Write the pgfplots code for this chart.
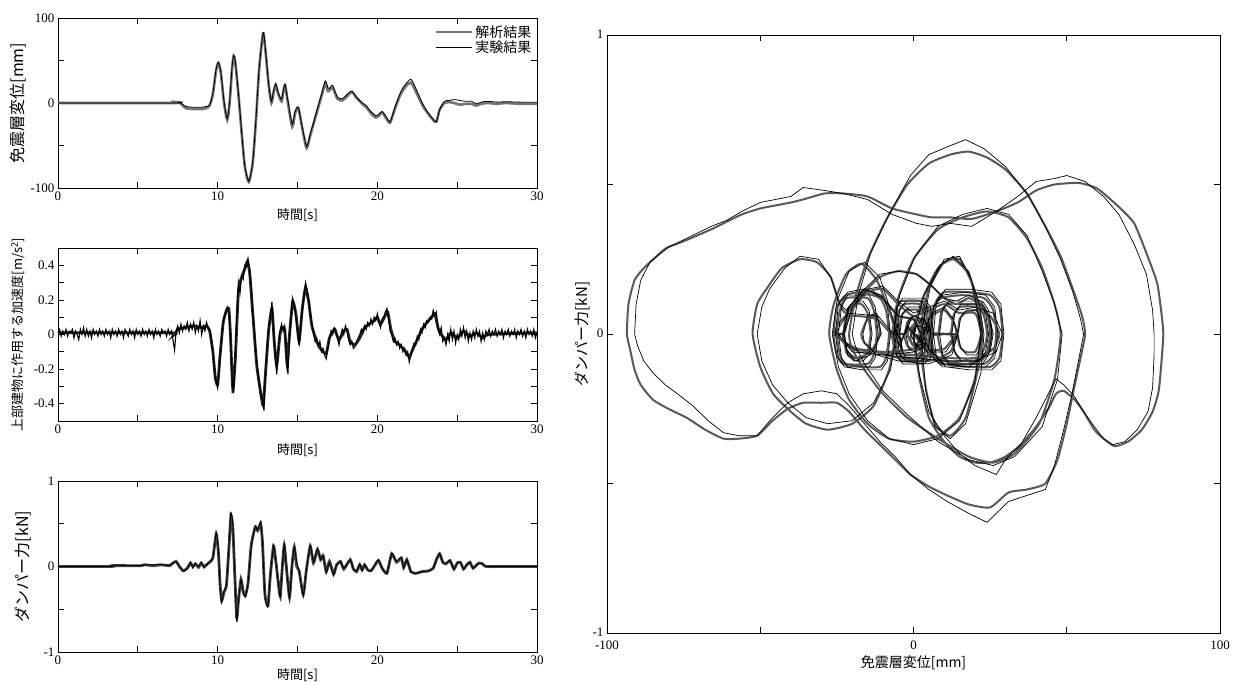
\documentclass[border=0pt]{standalone}
\usepackage{pgfplots}
\pgfplotsset{compat=1.18}
\usepackage{pgfplotstable}
\usepackage{fontspec}
\setmainfont{Liberation Serif}
\newfontfamily\jp{Noto Sans CJK JP}

\pgfplotstableread{
t a e
0 0 0
7.3 0 0
7.5 1 1
7.7 -1 0
8.0 -6 -4
8.5 -7 -5
9.0 -7 -5
9.3 -6 -4
9.5 -3 -2
9.7 10 12
9.9 38 40
10.05 47 48
10.2 35 37
10.4 0 2
10.6 -20 -18
10.75 0 3
10.9 40 42
11.0 55 56
11.1 48 50
11.3 10 12
11.5 -35 -33
11.7 -75 -73
11.95 -93 -92
12.2 -70 -68
12.4 -20 -18
12.6 40 42
12.85 82 83
13.0 60 62
13.2 20 22
13.37 0 2
13.5 12 15
13.64 21 23
13.8 10 12
14.0 2 4
14.1 12 14
14.22 21 22
14.4 0 3
14.67 -28 -25
14.85 -12 -10
15.05 -6 -5
15.3 -30 -28
15.57 -53 -51
15.8 -38 -36
16.0 -25 -23
16.3 -5 -3
16.5 8 10
16.74 23 26
16.9 14 18
17.0 15 17
17.2 18 21
17.5 5 7
17.8 3 5
18.1 8 10
18.4 13 14
18.7 6 7
19.0 0 1
19.3 -5 -3
19.6 -12 -10
19.9 -17 -15
20.1 -15 -13
20.3 -11 -10
20.55 -18 -16
20.8 -23 -22
21.1 -7 -5
21.4 8 10
21.6 15 18
21.9 22 25
22.1 24 28
22.3 18 22
22.6 6 9
22.9 -5 -3
23.2 -13 -12
23.5 -20 -19
23.7 -22 -22
23.9 -8 -8
24.2 0 2
24.5 1 3
24.8 0 4
25.2 -2 3
25.5 -1 2
25.9 -1 2
26.2 -3 -1
26.5 -1 1
26.9 0 2
27.5 -1 1
28 0 1.5
29 -1 1
30 -1 1
}\dispdata

\pgfplotstableread{
t v
0 0.01
7 0.01
7.3 0.0
7.5 0.03
8 0.04
8.5 0.05
9 0.04
9.3 0.05
9.5 0.02
9.7 -0.1
9.85 -0.25
10.0 -0.29
10.15 -0.12
10.35 0.07
10.55 0.14
10.7 0.15
10.8 0.0
10.95 -0.32
11.1 -0.15
11.3 0.25
11.5 0.33
11.7 0.38
11.85 0.42
12.0 0.36
12.2 0.12
12.45 -0.18
12.7 -0.34
12.85 -0.41
13.0 -0.22
13.2 0.03
13.4 0.15
13.55 -0.05
13.7 -0.18
13.9 0.0
14.05 0.04
14.2 0.03
14.35 -0.17
14.5 0.0
14.7 0.19
14.9 0.12
15.1 -0.04
15.3 0.15
15.5 0.27
15.7 0.19
15.9 0.05
16.2 -0.04
16.5 -0.09
16.8 -0.11
17.0 -0.02
17.3 0.03
17.6 -0.03
17.9 0.02
18.1 0.03
18.3 -0.04
18.6 -0.06
18.9 -0.02
19.2 0.04
19.5 0.06
19.8 0.08
20.0 0.1
20.2 0.06
20.5 0.11
20.65 0.13
20.85 0.03
21.1 -0.04
21.4 -0.06
21.7 -0.09
22.0 -0.13
22.2 -0.09
22.5 -0.03
22.8 0.03
23.1 0.07
23.4 0.1
23.6 0.12
23.8 0.04
24.0 0.0
24.3 -0.03
24.6 0.01
25 -0.02
25.4 0.02
25.8 -0.01
26.2 0.01
26.6 -0.02
27 0.0
30 0.01
}\accA

\pgfplotstableread{
t v
0.0 0.01
0.1 0.03
0.2 -0.01
0.3 0.02
0.4 0.0
0.5 0.03
0.6 -0.01
0.7 0.02
0.8 0.01
0.9 0.03
1.0 -0.02
1.1 0.02
1.2 0.0
1.3 -0.03
1.4 0.03
1.5 0.0
1.6 0.04
1.7 -0.01
1.8 0.03
1.9 -0.01
2.0 0.02
2.1 -0.02
2.2 0.03
2.3 0.0
2.4 0.02
2.5 -0.01
2.6 0.03
2.7 0.0
2.8 0.02
2.9 -0.01
3.0 0.03
3.1 0.0
3.2 0.02
3.3 -0.02
3.4 0.03
3.5 0.0
3.6 0.02
3.7 -0.01
3.8 0.03
3.9 0.0
4.0 0.02
4.1 -0.02
4.2 0.03
4.3 0.01
4.4 -0.01
4.5 0.03
4.6 0.0
4.7 0.02
4.8 -0.02
4.9 0.03
5.0 0.0
5.1 0.02
5.2 -0.01
5.3 0.03
5.4 0.0
5.5 0.02
5.6 -0.01
5.7 0.03
5.8 0.0
5.9 0.02
6.0 -0.02
6.1 0.03
6.2 0.0
6.3 0.02
6.4 -0.01
6.5 0.03
6.6 0.01
6.7 0.02
6.8 -0.01
6.9 0.03
7.0 0.0
7.1 0.02
7.2 -0.03
7.3 -0.09
7.4 0.02
7.5 0.05
7.6 0.01
7.7 0.06
7.8 0.02
7.9 0.05
8.0 0.03
8.1 0.07
8.2 0.02
8.3 0.06
8.4 0.03
8.5 0.07
8.6 0.01
8.7 0.05
8.8 0.02
8.9 0.08
9.0 0.0
9.1 0.05
9.2 0.02
9.3 0.07
9.4 0.04
9.5 0.03
9.6 -0.04
9.7 -0.1
9.8 -0.2
9.9 -0.27
10.0 -0.31
10.1 -0.2
10.2 -0.08
10.3 0.04
10.4 0.1
10.5 0.12
10.6 0.16
10.7 0.14
10.8 -0.02
10.9 -0.25
11.0 -0.34
11.1 -0.12
11.2 0.12
11.3 0.3
11.4 0.24
11.5 0.34
11.6 0.32
11.7 0.4
11.8 0.39
11.9 0.44
12.0 0.38
12.1 0.28
12.2 0.12
12.3 0.02
12.4 -0.12
12.5 -0.2
12.6 -0.28
12.7 -0.36
12.8 -0.37
12.9 -0.44
13.0 -0.2
13.1 -0.06
13.2 0.05
13.3 0.1
13.4 0.19
13.5 0.02
13.6 -0.12
13.7 -0.23
13.8 -0.08
13.9 0.02
14.0 0.06
14.1 0.02
14.2 0.05
14.3 -0.1
14.4 -0.23
14.5 -0.02
14.6 0.12
14.7 0.21
14.8 0.17
14.9 0.1
15.0 0.03
15.1 -0.06
15.2 0.05
15.3 0.14
15.4 0.22
15.5 0.3
15.6 0.26
15.7 0.2
15.8 0.12
15.9 0.06
16.0 0.01
16.1 -0.04
16.2 -0.02
16.3 -0.07
16.4 -0.04
16.5 -0.1
16.6 -0.08
16.7 -0.12
16.8 -0.14
16.9 -0.08
17.0 -0.03
17.1 0.02
17.2 0.0
17.3 0.04
17.4 0.03
17.5 -0.02
17.6 -0.06
17.7 -0.01
17.8 0.03
17.9 0.0
18.0 0.05
18.1 0.02
18.2 -0.03
18.3 -0.06
18.4 -0.04
18.5 -0.08
18.6 -0.07
18.7 -0.04
18.8 -0.02
18.9 0.0
19.0 0.03
19.1 0.01
19.2 0.05
19.3 0.03
19.4 0.07
19.5 0.05
19.6 0.09
19.7 0.06
19.8 0.1
19.9 0.08
20.0 0.12
20.1 0.07
20.2 0.04
20.3 0.09
20.4 0.1
20.5 0.13
20.6 0.15
20.7 0.1
20.8 0.02
20.9 0.0
21.0 -0.04
21.1 -0.02
21.2 -0.06
21.3 -0.04
21.4 -0.08
21.5 -0.06
21.6 -0.1
21.7 -0.08
21.8 -0.12
21.9 -0.1
22.0 -0.16
22.1 -0.12
22.2 -0.08
22.3 -0.05
22.4 -0.06
22.5 -0.01
22.6 -0.03
22.7 0.03
22.8 0.01
22.9 0.06
23.0 0.04
23.1 0.08
23.2 0.07
23.3 0.1
23.4 0.09
23.5 0.14
23.6 0.11
23.7 0.13
23.8 0.03
23.9 0.0
24.0 0.04
24.1 -0.04
24.2 -0.02
24.3 -0.06
24.4 0.0
24.5 -0.04
24.6 0.03
24.7 -0.03
24.8 0.02
24.9 -0.05
25.0 0.0
25.1 -0.03
25.2 0.03
25.3 -0.01
25.4 0.04
25.5 -0.02
25.6 0.02
25.7 -0.04
25.8 0.01
25.9 -0.03
26.0 0.02
26.1 -0.02
26.2 0.03
26.3 -0.01
26.4 0.02
26.5 -0.04
26.6 0.01
26.7 -0.03
26.8 0.02
26.9 0.0
27.0 0.03
27.1 -0.01
27.2 0.02
27.3 0.0
27.4 0.03
27.5 -0.01
27.6 0.02
27.7 0.0
27.8 0.03
27.9 -0.02
28.0 0.02
28.1 0.0
28.2 0.03
28.3 -0.01
28.4 0.02
28.5 0.0
28.6 0.03
28.7 -0.02
28.8 0.02
28.9 0.0
29.0 0.03
29.1 -0.01
29.2 0.02
29.3 -0.02
29.4 0.03
29.5 0.0
29.6 0.02
29.7 -0.01
29.8 0.03
29.9 -0.02
30.0 0.01
}\accE

\pgfplotstableread{
t a e
0 0 0
3.3 0 0
3.4 0.01 0.015
5.2 0.01 0.01
5.4 0.02 0.02
6.0 0.01 0.02
6.4 0.02 0.02
7.0 0.01 0.02
7.2 0.04 0.05
7.4 0.06 0.05
7.6 0.0 0.01
7.85 -0.05 -0.06
8.1 -0.02 -0.02
8.3 0.04 0.05
8.45 0.0 -0.02
8.6 0.03 0.04
8.8 -0.01 0.0
8.97 0.04 0.05
9.15 0.0 -0.02
9.3 0.02 0.02
9.5 0.05 0.06
9.7 0.1 0.1
9.91 0.38 0.4
10.05 0.15 0.2
10.15 -0.2 -0.25
10.25 -0.4 -0.42
10.4 -0.3 -0.28
10.55 -0.22 -0.2
10.7 0.2 0.22
10.83 0.6 0.63
10.95 0.45 0.5
11.05 0.0 0.05
11.19 -0.6 -0.64
11.3 -0.4 -0.42
11.46 -0.15 -0.15
11.6 -0.3 -0.3
11.73 -0.34 -0.36
11.9 -0.2 -0.2
12.1 0.25 0.22
12.35 0.46 0.48
12.5 0.42 0.42
12.69 0.5 0.53
12.8 0.3 0.3
12.95 -0.3 -0.32
13.05 -0.42 -0.44
13.16 -0.45 -0.46
13.3 -0.1 -0.1
13.5 0.24 0.25
13.65 0.05 0.05
13.8 -0.2 -0.18
13.92 -0.35 -0.36
14.05 0.0 0.0
14.17 0.25 0.26
14.3 0.0 0.0
14.5 -0.36 -0.37
14.65 0.0 0.0
14.8 0.23 0.23
14.95 0.0 0.05
15.1 -0.05 -0.05
15.36 -0.33 -0.34
15.55 -0.05 -0.05
15.8 0.24 0.25
16.0 0.04 0.05
16.25 0.2 0.21
16.45 0.08 0.08
16.6 0.13 0.12
16.8 -0.06 -0.07
17.0 0.06 0.05
17.26 -0.09 -0.1
17.45 0.02 0.02
17.7 0.06 0.05
17.9 -0.03 -0.02
18.3 0.08 0.08
18.5 -0.03 -0.03
18.7 -0.06 -0.05
18.9 0.02 0.03
19.05 -0.04 -0.05
19.2 0.02 0.02
19.4 -0.04 -0.04
19.6 -0.05 -0.06
19.8 0.0 0.01
20.07 0.07 0.08
20.3 -0.02 -0.02
20.6 -0.08 -0.08
20.9 0.15 0.15
21.2 0.05 0.06
21.5 0.1 0.11
21.65 -0.01 -0.02
21.85 0.08 0.08
22.1 -0.06 -0.06
22.4 -0.08 -0.08
22.8 -0.06 -0.06
23.2 -0.05 -0.06
23.5 -0.02 -0.02
23.7 0.08 0.08
23.9 0.15 0.15
24.1 0.05 0.05
24.3 0.03 0.04
24.55 0.07 0.07
24.8 -0.03 -0.03
25.0 0.04 0.04
25.2 0.05 0.05
25.4 -0.03 -0.03
25.6 0.02 0.02
25.8 0.05 0.05
26.0 -0.02 -0.02
26.35 0.04 0.04
26.6 0.03 0.03
26.8 0.0 0.0
28 0.0 0.0
30 0.0 0.0
}\forcedata

\pgfplotstableread{
da fa de fe
0 0 0 0
-2 0.02 -2 0.03
-4 -0.02 -4 -0.03
-6 0.01 -6 0.02
-7 0 -6 0
-4 -0.04 -4 -0.05
-6 0.03 -5 0.04
-7 0 -6.5 0
-5 0.12 -4.5 0.13
0 0.25 0.5 0.26
8 0.35 8 0.36
16 0.39 16 0.40
24 0.41 24 0.42
31 0.39 31 0.40
37 0.32 37 0.33
42 0.22 42 0.21
46 0.1 46 0.1
48 0 48.5 0
46 -0.15 47 -0.15
41 -0.3 42 -0.31
33 -0.4 33 -0.41
26 -0.43 26 -0.44
18 -0.41 18 -0.42
8 -0.35 8 -0.36
-2 -0.28 -2 -0.27
-10 -0.2 -10 -0.19
-16 -0.12 -16 -0.1
-20 -0.05 -19 -0.04
-21 0 -20 0
-19 0.12 -18 0.13
-15 0.25 -14 0.27
-9 0.38 -8 0.4
-2 0.5 -1 0.53
5 0.57 5 0.6
12 0.6 12 0.63
18 0.61 17 0.65
24 0.59 23 0.62
30 0.55 30 0.56
37 0.47 37 0.47
43 0.36 43 0.36
48 0.26 48 0.25
52 0.15 52 0.14
55 0.06 54.5 0.05
56 0 55.5 0
54.5 -0.08 54 -0.08
52 -0.2 51.5 -0.21
50 -0.3 49 -0.32
47 -0.42 46 -0.44
43 -0.5 43 -0.52
37 -0.52 37 -0.54
31 -0.53 31 -0.56
25 -0.58 24 -0.63
18 -0.57 18 -0.6
11 -0.54 11 -0.56
5 -0.51 5 -0.52
-1 -0.47 -1 -0.47
-6 -0.42 -6 -0.41
-11 -0.37 -11 -0.36
-16 -0.32 -16 -0.3
-21 -0.26 -21 -0.24
-25 -0.23 -25 -0.2
-30 -0.23 -30 -0.19
-36 -0.23 -36 -0.2
-41 -0.25 -41 -0.23
-46 -0.29 -46 -0.28
-51 -0.34 -51 -0.34
-57 -0.35 -57 -0.34
-62 -0.35 -62 -0.33
-68 -0.32 -67 -0.29
-74 -0.28 -72 -0.24
-80 -0.25 -77 -0.2
-85 -0.22 -81 -0.17
-89 -0.17 -85 -0.13
-91 -0.12 -88 -0.09
-92.5 -0.05 -90 -0.04
-93.5 0 -91 0
-93 0.1 -90.5 0.1
-91 0.18 -89 0.18
-88 0.22 -86 0.24
-81 0.285 -80 0.29
-75 0.31 -74 0.32
-66 0.35 -66 0.36
-62 0.37 -61 0.38
-56 0.4 -56 0.41
-50 0.42 -50 0.44
-45 0.43 -45 0.45
-40 0.44 -40 0.46
-36 0.45 -36 0.49
-29 0.47 -29 0.48
-23 0.47 -23 0.47
-15 0.46 -15 0.45
-7 0.42 -7 0.4
1 0.4 1 0.37
6 0.39 6 0.36
12 0.39 12 0.37
19 0.385 19 0.36
27 0.41 27 0.41
34 0.44 34 0.46
40 0.48 40 0.51
46 0.5 46 0.52
54 0.505 50 0.53
60 0.486 56 0.51
67 0.425 62 0.46
72 0.37 67 0.4
76 0.27 72 0.3
79.5 0.17 76 0.2
81 0.06 78 0.08
81.5 0 78.5 0
81 -0.08 78.5 -0.07
80 -0.19 78 -0.18
78 -0.26 76.5 -0.26
74.5 -0.32 73 -0.32
70 -0.36 69 -0.36
65.6 -0.375 65 -0.37
62 -0.35 62 -0.35
59 -0.32 59 -0.31
55.5 -0.26 55.5 -0.26
52.6 -0.22 52.6 -0.21
49 -0.19 49 -0.17
46.5 -0.2 46.5 -0.15
44 -0.25 44 -0.2
40 -0.31 40 -0.28
35 -0.37 35 -0.37
30 -0.41 30 -0.42
25 -0.43 27 -0.47
20 -0.43 20 -0.44
15 -0.41 15 -0.4
10 -0.36 10 -0.34
5 -0.28 5 -0.26
2 -0.15 2 -0.14
0 0 0 0
3 0.12 3.5 0.13
8 0.22 8.5 0.23
13 0.25 13 0.26
18 0.2 18 0.21
21 0.1 21.5 0.1
22.5 0 23 0
21 -0.12 22 -0.13
17 -0.28 17 -0.3
12 -0.34 12 -0.35
7 -0.3 7 -0.31
4 -0.18 4 -0.19
2 0 2.5 0
5 0.15 5.5 0.16
10 0.24 10 0.25
15 0.25 15 0.26
19 0.17 19 0.18
21 0.07 21 0.07
22 0 22 0
20 -0.15 20 -0.16
15 -0.28 15 -0.29
8 -0.34 8 -0.35
0 -0.36 0 -0.37
-8 -0.35 -8 -0.35
-15 -0.3 -15 -0.29
-21 -0.22 -21 -0.2
-25 -0.12 -24.5 -0.11
-27.5 0 -26.5 0
-26 0.1 -25 0.11
-22 0.2 -21 0.21
-17 0.235 -16 0.24
-12 0.18 -11 0.19
-8 0.08 -7.5 0.08
-6 0 -5.5 0
-8 -0.12 -7.5 -0.12
-13 -0.24 -13 -0.23
-20 -0.3 -20 -0.29
-28 -0.32 -28 -0.3
-35 -0.3 -35 -0.28
-40 -0.26 -41 -0.23
-45.8 -0.2 -46 -0.17
-50 -0.11 -49.5 -0.09
-52.5 0 -51 0
-51 0.1 -49.5 0.09
-48 0.15 -47 0.15
-43 0.22 -42 0.22
-37 0.25 -37 0.26
-31.5 0.24 -31 0.25
-27 0.19 -27 0.19
-24.5 0.11 -24 0.1
-22 0.07 -22 0.08
-17 0.13 -17 0.14
-11 0.19 -11 0.2
-5 0.21 -5 0.21
1 0.2 1 0.2
6 0.16 6 0.16
10 0.12 10 0.12
14 0.1 14 0.11
18 0.12 18 0.13
22 0.1 22 0.11
24.5 0.05 25 0.05
25.5 0 26 0
24 -0.06 25 -0.06
18 -0.1 18 -0.11
10 -0.09 10 -0.1
5 -0.05 5 -0.05
3 0 3 0
6 0.06 6 0.07
10 0.08 10 0.09
13 0.04 13 0.05
14 0 14.5 0
12 -0.06 12.5 -0.07
5 -0.09 5 -0.1
-5 -0.08 -5 -0.09
-12 -0.06 -12 -0.07
-16 -0.03 -16 -0.03
-17 0 -16.5 0
-15 0.05 -15 0.06
-12 0.06 -12 0.07
-11 0 -10.5 0
-14 -0.06 -14 -0.07
-19 -0.08 -19 -0.09
-22 -0.05 -22 -0.05
-23 0 -22.5 0
-20 0.08 -20 0.09
-15 0.14 -15 0.15
-10 0.15 -10 0.16
-5 0.1 -5 0.11
0 0.06 0 0.07
5 0.08 5 0.09
10 0.1 10 0.11
15 0.07 15 0.08
20 0.08 20 0.09
25 0.06 26 0.07
28 0 29 0
26 -0.05 27 -0.06
20 -0.08 20 -0.09
10 -0.08 10 -0.09
0 -0.07 0 -0.08
-10 -0.06 -10 -0.07
-18 -0.05 -18 -0.06
-22 -0.03 -22 -0.03
-23 0 -23 0
-21 0.08 -21 0.09
-16 0.15 -16 0.15
-10 0.12 -10 0.12
-5 0.06 -5 0.06
0 0.05 0 0.05
2 0 2.5 0
0 -0.05 0.5 -0.06
-10 -0.06 -10 -0.07
-20 -0.05 -20 -0.06
-25 0 -24.5 0
-24 0.08 -23.5 0.09
-22 0.12 -21.5 0.13
-15 0.12 -14.5 0.13
-13 0.08 -12.5 0.09
-12 0 -11.5 0
-13 -0.07 -12.5 -0.08
-15 -0.1 -14.5 -0.11
-22 -0.1 -21.5 -0.11
-24 -0.07 -23.5 -0.08
-25 0 -24.5 0
-23 0 -22.5 0
-22 0.07 -21.5 0.08
-20 0.1 -19.5 0.11
-17 0.1 -16.5 0.11
-15 0.07 -14.5 0.08
-14 0 -13.5 0
-15 -0.06 -14.5 -0.07
-17 -0.08 -16.5 -0.09
-20 -0.08 -19.5 -0.09
-22 -0.06 -21.5 -0.07
-23 0 -22.5 0
-26 0 -25.5 0
-25 0.09 -24.5 0.1
-22 0.13 -21.5 0.14
-17 0.14 -16.5 0.15
-11 0.12 -10.5 0.13
-9 0.08 -8.5 0.09
-8 0 -7.5 0
-9 -0.08 -8.5 -0.09
-11 -0.11 -10.5 -0.12
-17 -0.11 -16.5 -0.12
-23 -0.1 -22.5 -0.11
-25 -0.07 -24.5 -0.08
-26 0 -25.5 0
-22 0.06 -21.5 0.07
-12 0.05 -11.5 0.06
-7 0 -6.5 0
-6 0.08 -5.5 0.09
-4 0.11 -3.5 0.12
3 0.11 3.5 0.12
5 0.08 5.5 0.09
6 0 6.5 0
5 -0.07 5.5 -0.08
3 -0.09 3.5 -0.1
-4 -0.09 -3.5 -0.1
-6 -0.06 -5.5 -0.07
-7 0 -6.5 0
-5 0 -4.5 0
-4 0.06 -3.5 0.07
-2 0.08 -1.5 0.09
2 0.08 2.5 0.09
3 0.06 3.5 0.07
4 0 4.5 0
3 -0.05 3.5 -0.06
1 -0.07 1.5 -0.08
-3 -0.07 -2.5 -0.08
-4 -0.05 -3.5 -0.06
-5 0 -4.5 0
-6 0 -5.5 0
-5 0.07 -4.5 0.08
-3 0.1 -2.5 0.11
2 0.1 2.5 0.11
4 0.07 4.5 0.08
5 0 5.5 0
4 -0.06 4.5 -0.07
2 -0.08 2.5 -0.09
-3 -0.08 -2.5 -0.09
-5 -0.06 -4.5 -0.07
-6 0 -5.5 0
-3 0 -2.5 0
-2 0.04 -1.5 0.05
0 0.05 0.5 0.06
2 0.04 2.5 0.05
3 0 3.5 0
2 -0.04 2.5 -0.05
0 -0.05 0.5 -0.06
-2 -0.04 -1.5 -0.05
-3 0 -2.5 0
-1 0.05 -0.5 0.06
3 0.04 3.5 0.05
5 0 5.5 0
6 0.08 6.5 0.09
9 0.12 9.5 0.13
16 0.13 16.5 0.14
23 0.12 23.5 0.13
26 0.08 26.5 0.09
27 0 27.5 0
26 -0.07 26.5 -0.08
23 -0.1 23.5 -0.11
16 -0.1 16.5 -0.11
9 -0.1 9.5 -0.11
6 -0.07 6.5 -0.08
5 0 5.5 0
8 0 8.5 0
9 0.07 9.5 0.08
11 0.1 11.5 0.11
17 0.1 17.5 0.11
22 0.1 22.5 0.11
24 0.07 24.5 0.08
25 0 25.5 0
24 -0.06 24.5 -0.07
22 -0.09 22.5 -0.1
17 -0.09 17.5 -0.1
11 -0.09 11.5 -0.1
9 -0.06 9.5 -0.07
8 0 8.5 0
12 0 12.5 0
13 0.06 13.5 0.07
15 0.09 15.5 0.1
21 0.09 21.5 0.1
23 0.06 23.5 0.07
24 0 24.5 0
23 -0.05 23.5 -0.06
21 -0.08 21.5 -0.09
15 -0.08 15.5 -0.09
13 -0.05 13.5 -0.06
12 0 12.5 0
6 0 6.5 0
7 0.1 7.5 0.11
10 0.14 10.5 0.15
18 0.14 18.5 0.15
25 0.13 25.5 0.14
28 0.09 28.5 0.1
29 0 29.5 0
28 -0.08 28.5 -0.09
25 -0.11 25.5 -0.12
18 -0.11 18.5 -0.12
10 -0.1 10.5 -0.11
7 -0.07 7.5 -0.08
6 0 6.5 0
14 0 14.5 0
15 0.05 15.5 0.06
17 0.07 17.5 0.08
20 0.07 20.5 0.08
21 0.05 21.5 0.06
22 0 22.5 0
21 -0.04 21.5 -0.05
20 -0.06 20.5 -0.07
17 -0.06 17.5 -0.07
15 -0.04 15.5 -0.05
14 0 14.5 0
10 -0.05 10.5 -0.06
4 -0.05 4.5 -0.06
0 0 0.5 0
3 -0.04 4 -0.04
1 -0.05 2 -0.05
-1 -0.02 0 -0.02
0 0.03 1 0.03
2 0.05 3 0.05
4 0.03 5 0.03
3 -0.03 4 -0.03
0 -0.04 1 -0.04
-2 0 -1 0
0 0.03 1 0.03
3 0.02 4 0.02
2 -0.02 3 -0.02
0 0 1 0
}\hysdata

\pgfplotsset{
  panel/.style={
    scale only axis,
    anchor=south west,
    tick align=inside,
    tick pos=both,
    major tick length=6pt,
    axis line style={line width=0.9pt},
    every tick/.style={black, line width=0.8pt},
    tick label style={font=\fontsize{13}{15}\selectfont},
    label style={font=\jp\fontsize{13}{15}\selectfont},
    /pgf/number format/assume math mode=true,
    clip=true,
  },
  tpanel/.style={
    panel,
    width=479pt,
    xmin=0, xmax=30,
    xtick={0,5,10,15,20,25,30},
    xticklabels={0,,10,,20,,30},
    xlabel={時間[s]},
  },
}

\begin{document}
\begin{tikzpicture}
\useasboundingbox (0pt,0pt) rectangle (1236pt,-685pt);

% Panel 1
\begin{axis}[tpanel,
  at={(58pt,-188pt)}, height=170pt,
  ymin=-100, ymax=100,
  ytick={-100,-50,0,50,100},
  yticklabels={-100,,0,,100},
  ylabel={免震層変位[mm]},
  xlabel style={at={(axis description cs:0.5,-0.159)}, anchor=center},
  ylabel style={at={(axis description cs:-0.0835,0.5)}, anchor=center, font=\jp\fontsize{16}{18}\selectfont},
  legend style={at={(rel axis cs:0.995,0.975)}, anchor=north east, draw=none, fill=none,
    font=\jp\fontsize{14}{16}\selectfont, row sep=-2pt, inner sep=1pt},
  legend cell align=left,
  legend image code/.code={\draw[#1] (0pt,0pt) -- (36pt,0pt);},
]
\addplot[black!55, line width=2.6pt, smooth, tension=0.4] table[x=t,y=a]{\dispdata};
\addlegendentry{解析結果}
\addplot[black, line width=0.8pt, smooth, tension=0.4] table[x=t,y=e]{\dispdata};
\addlegendentry{実験結果}
\end{axis}

% Panel 2
\begin{axis}[tpanel,
  at={(58pt,-421pt)}, height=173pt,
  ymin=-0.5, ymax=0.5,
  ytick={-0.4,-0.3,-0.2,-0.1,0,0.1,0.2,0.3,0.4},
  yticklabels={-0.4,,-0.2,,0,,0.2,,0.4},
  ylabel={上部建物に作用する加速度[m/s\textsuperscript{2}]},
  xlabel style={at={(axis description cs:0.5,-0.168)}, anchor=center},
  ylabel style={at={(axis description cs:-0.0835,0.5)}, anchor=center, font=\jp\fontsize{13}{15}\selectfont},
]
\addplot[black!85, line width=2.8pt, smooth, tension=0.3] table[x=t,y=v]{\accA};
\addplot[black, line width=1.1pt] table[x=t,y=v]{\accE};
\end{axis}

% Panel 3
\begin{axis}[tpanel,
  at={(58pt,-652pt)}, height=171pt,
  ymin=-1, ymax=1,
  ytick={-1,-0.5,0,0.5,1},
  yticklabels={-1,,0,,1},
  ylabel={ダンパー力[kN]},
  xlabel style={at={(axis description cs:0.5,-0.1345)}, anchor=center},
  ylabel style={at={(axis description cs:-0.072,0.5)}, anchor=center, font=\jp\fontsize{16}{18}\selectfont},
]
\addplot[black!75, line width=2.8pt, smooth, tension=0.3] table[x=t,y=a]{\forcedata};
\addplot[black, line width=0.8pt, smooth, tension=0.3] table[x=t,y=e]{\forcedata};
\end{axis}

% Panel 4
\begin{axis}[panel,
  at={(607pt,-633pt)}, width=613pt, height=598pt,
  xmin=-100, xmax=100, ymin=-1, ymax=1,
  xtick={-100,-50,0,50,100},
  xticklabels={-100,,0,,100},
  ytick={-1,-0.5,0,0.5,1},
  yticklabels={-1,,0,,1},
  xticklabel style={yshift=-4pt},
  yticklabel style={yshift=1pt},
  xlabel={免震層変位[mm]},
  ylabel={ダンパー力[kN]},
  xlabel style={at={(axis description cs:0.5,-0.05)}, anchor=center, font=\jp\fontsize{14}{16}\selectfont},
  ylabel style={at={(axis description cs:-0.04,0.5)}, anchor=center, font=\jp\fontsize{15}{17}\selectfont},
]
\addplot[black!65, line width=2pt, smooth, tension=0.35] table[x=da,y=fa]{\hysdata};
\addplot[black, line width=0.7pt] table[x=de,y=fe]{\hysdata};
\end{axis}
\end{tikzpicture}
\end{document}
